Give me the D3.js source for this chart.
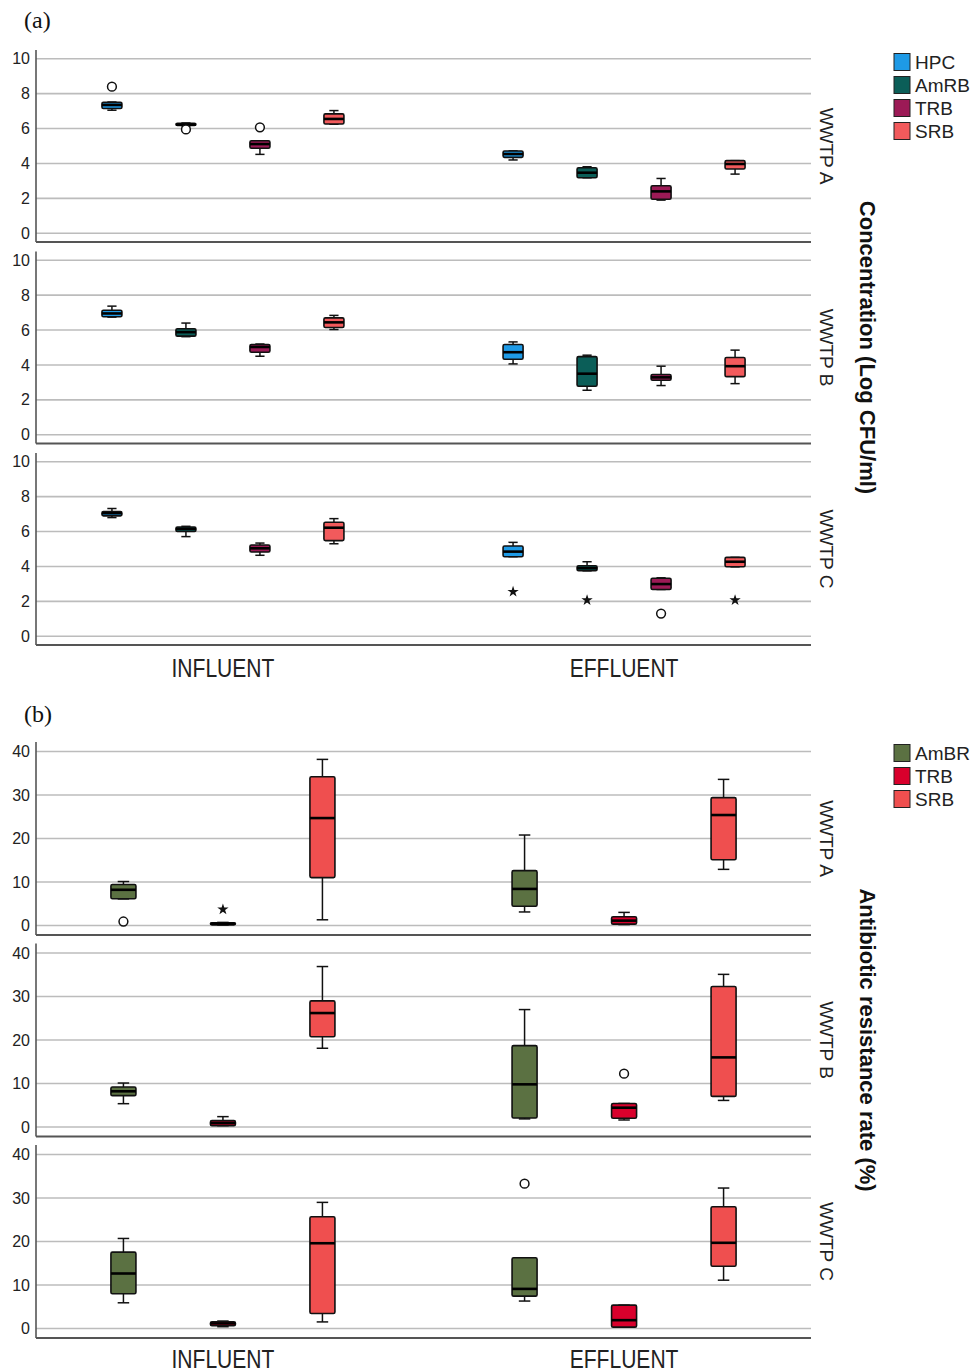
<!DOCTYPE html>
<html>
<head>
<meta charset="utf-8">
<script src="https://cdn.jsdelivr.net/npm/d3@7"></script>
<style>
  html, body { margin: 0; padding: 0; background: #fff; }
  svg { display: block; }
  text { font-family: "Liberation Sans", Arial, sans-serif; }
</style>
</head>
<body>
<script>
// ---------------- DATA ----------------
const groups = ["INFLUENT", "EFFLUENT"];
const plants = ["WWTP A", "WWTP B", "WWTP C"];

// Panel (a): concentration (Log CFU/ml)
const seriesA = ["HPC", "AmRB", "TRB", "SRB"];
const colorsA = ["#1e9ae6", "#0b5e58", "#9c1a56", "#f25a5c"];
const yTicksA = [0, 2, 4, 6, 8, 10];
// [group, series, min, q1, median, q3, max]
const concWWTPA = [
  ["INFLUENT", "HPC", 7.05, 7.15, 7.35, 7.5, 7.52],
  ["INFLUENT", "AmRB", 6.15, 6.18, 6.22, 6.3, 6.32],
  ["INFLUENT", "TRB", 4.52, 4.87, 5.11, 5.3, 5.3],
  ["INFLUENT", "SRB", 6.25, 6.26, 6.55, 6.84, 7.03],
  ["EFFLUENT", "HPC", 4.2, 4.35, 4.54, 4.71, 4.72],
  ["EFFLUENT", "AmRB", 3.18, 3.18, 3.47, 3.75, 3.81],
  ["EFFLUENT", "TRB", 1.9, 1.95, 2.4, 2.72, 3.14],
  ["EFFLUENT", "SRB", 3.39, 3.68, 3.97, 4.16, 4.16]
];
const concWWTPB = [
  ["INFLUENT", "HPC", 6.74, 6.76, 6.95, 7.13, 7.37],
  ["INFLUENT", "AmRB", 5.62, 5.65, 5.88, 6.07, 6.4],
  ["INFLUENT", "TRB", 4.5, 4.73, 5.03, 5.17, 5.2],
  ["INFLUENT", "SRB", 6.03, 6.15, 6.44, 6.7, 6.84],
  ["EFFLUENT", "HPC", 4.06, 4.33, 4.73, 5.17, 5.32],
  ["EFFLUENT", "AmRB", 2.55, 2.78, 3.5, 4.48, 4.56],
  ["EFFLUENT", "TRB", 2.82, 3.12, 3.29, 3.45, 3.93],
  ["EFFLUENT", "SRB", 2.93, 3.33, 3.93, 4.43, 4.85]
];
const concWWTPC = [
  ["INFLUENT", "HPC", 6.8, 6.9, 7.05, 7.14, 7.32],
  ["INFLUENT", "AmRB", 5.71, 6.0, 6.15, 6.26, 6.3],
  ["INFLUENT", "TRB", 4.64, 4.83, 5.04, 5.23, 5.34],
  ["INFLUENT", "SRB", 5.3, 5.48, 6.22, 6.53, 6.74],
  ["EFFLUENT", "HPC", 4.56, 4.56, 4.85, 5.17, 5.38],
  ["EFFLUENT", "AmRB", 3.75, 3.75, 3.9, 4.04, 4.27],
  ["EFFLUENT", "TRB", 2.68, 2.68, 2.99, 3.32, 3.35],
  ["EFFLUENT", "SRB", 3.98, 3.98, 4.27, 4.52, 4.52]
];
// [plant, group, series, value, marker]
const concOutliers = [
  ["WWTP A", "INFLUENT", "HPC", 8.4, "o"],
  ["WWTP A", "INFLUENT", "AmRB", 5.95, "o"],
  ["WWTP A", "INFLUENT", "TRB", 6.07, "o"],
  ["WWTP C", "EFFLUENT", "HPC", 2.55, "*"],
  ["WWTP C", "EFFLUENT", "AmRB", 2.07, "*"],
  ["WWTP C", "EFFLUENT", "TRB", 1.3, "o"],
  ["WWTP C", "EFFLUENT", "SRB", 2.07, "*"]
];

// Panel (b): antibiotic resistance rate (%)
const seriesB = ["AmBR", "TRB", "SRB"];
const colorsB = ["#5b7142", "#d9002c", "#ef4f4f"];
const yTicksB = [0, 10, 20, 30, 40];
const resWWTPA = [
  ["INFLUENT", "AmBR", 6.1, 6.13, 8.2, 9.43, 10.1],
  ["INFLUENT", "TRB", 0.1, 0.15, 0.4, 0.6, 0.7],
  ["INFLUENT", "SRB", 1.3, 11.0, 24.7, 34.2, 38.2],
  ["EFFLUENT", "AmBR", 3.1, 4.4, 8.4, 12.6, 20.8],
  ["EFFLUENT", "TRB", 0.2, 0.3, 1.1, 2.0, 3.0],
  ["EFFLUENT", "SRB", 12.9, 15.1, 25.4, 29.4, 33.6]
];
const resWWTPB = [
  ["INFLUENT", "AmBR", 5.35, 7.2, 8.2, 9.2, 10.1],
  ["INFLUENT", "TRB", 0.3, 0.3, 0.9, 1.45, 2.37],
  ["INFLUENT", "SRB", 18.1, 20.75, 26.2, 29.0, 36.9],
  ["EFFLUENT", "AmBR", 1.85, 2.07, 9.8, 18.7, 27.0],
  ["EFFLUENT", "TRB", 1.6, 2.0, 4.43, 5.4, 5.4],
  ["EFFLUENT", "SRB", 6.1, 7.03, 16.0, 32.3, 35.1]
];
const resWWTPC = [
  ["INFLUENT", "AmBR", 5.9, 7.98, 12.64, 17.55, 20.7],
  ["INFLUENT", "TRB", 0.4, 0.62, 1.15, 1.53, 1.7],
  ["INFLUENT", "SRB", 1.5, 3.45, 19.6, 25.7, 29.0],
  ["EFFLUENT", "AmBR", 6.3, 7.43, 9.1, 16.25, 16.25],
  ["EFFLUENT", "TRB", 0.3, 0.3, 1.9, 5.36, 5.36],
  ["EFFLUENT", "SRB", 11.1, 14.3, 19.7, 28.0, 32.3]
];
const resOutliers = [
  ["WWTP A", "INFLUENT", "AmBR", 0.9, "o"],
  ["WWTP A", "INFLUENT", "TRB", 3.7, "*"],
  ["WWTP B", "EFFLUENT", "TRB", 12.25, "o"],
  ["WWTP C", "EFFLUENT", "AmBR", 33.3, "o"]
];

// ---------------- DRAWING ----------------
const W = 979, H = 1372;
const svg = d3.select("body").append("svg").attr("width", W).attr("height", H);

const plotLeft = 36, plotRight = 811;
const xGroup = d3.scalePoint().domain(groups).range([plotLeft, plotRight]).padding(0.466);

function drawPanel(cfg) {
  const g = svg.append("g");
  const n = cfg.series.length;
  const p = 1 - cfg.boxW / cfg.step;
  const inner = d3.scaleBand().domain(cfg.series)
    .range([-cfg.step * n / 2, cfg.step * n / 2])
    .paddingInner(p).paddingOuter(p / 2);
  const color = d3.scaleOrdinal().domain(cfg.series).range(cfg.colors);
  const bw = inner.bandwidth();
  const cx = (grp, s) => xGroup(grp) + inner(s) + bw / 2;

  g.append("text").attr("x", 24).attr("y", cfg.labelY)
    .style("font-family", "'Liberation Serif', 'Times New Roman', serif")
    .style("font-size", "24px").attr("fill", "#111").text(cfg.label);

  plants.forEach((plant, k) => {
    const top = cfg.facetTops[k];
    const bottom = top + cfg.facetH;
    const y = d3.scaleLinear().domain(cfg.yDomain).range([bottom, top]);
    const fg = g.append("g");

    // gridlines
    fg.selectAll("line.grid").data(cfg.yTicks).join("line")
      .attr("x1", plotLeft).attr("x2", plotRight)
      .attr("y1", d => y(d)).attr("y2", d => y(d))
      .attr("stroke", "#bcbcbc").attr("stroke-width", 1.6);

    // y axis
    const ax = fg.append("g").attr("transform", `translate(${plotLeft},0)`)
      .call(d3.axisLeft(y).tickValues(cfg.yTicks).tickSize(0).tickPadding(6));
    ax.select(".domain").remove();
    ax.selectAll("text").style("font-size", "16px").attr("fill", "#222")
      .style("font-family", "'Liberation Sans', Arial, sans-serif");
    fg.append("line").attr("x1", plotLeft).attr("x2", plotLeft)
      .attr("y1", top).attr("y2", bottom).attr("stroke", "#555").attr("stroke-width", 1.6);
    fg.append("line").attr("x1", plotLeft).attr("x2", plotRight)
      .attr("y1", bottom).attr("y2", bottom).attr("stroke", "#555").attr("stroke-width", 2);

    // row label
    const my = (top + bottom) / 2;
    fg.append("text")
      .attr("transform", `translate(${cfg.rowLabelX},${my}) rotate(90)`)
      .attr("text-anchor", "middle").attr("dominant-baseline", "central")
      .style("font-size", "19px").attr("fill", "#222").text(plant);

    const rows = cfg.stats[k].map(r => ({
      group: r[0], s: r[1], min: r[2], q1: r[3], med: r[4], q3: r[5], max: r[6]
    }));
    const bx = fg.selectAll("g.box").data(rows).join("g");
    // whiskers
    bx.append("line")
      .attr("x1", d => cx(d.group, d.s)).attr("x2", d => cx(d.group, d.s))
      .attr("y1", d => y(d.max)).attr("y2", d => y(d.q3))
      .attr("stroke", "#111").attr("stroke-width", 1.5);
    bx.append("line")
      .attr("x1", d => cx(d.group, d.s)).attr("x2", d => cx(d.group, d.s))
      .attr("y1", d => y(d.q1)).attr("y2", d => y(d.min))
      .attr("stroke", "#111").attr("stroke-width", 1.5);
    ["max", "min"].forEach(key => {
      bx.append("line")
        .attr("x1", d => cx(d.group, d.s) - bw * 0.23).attr("x2", d => cx(d.group, d.s) + bw * 0.23)
        .attr("y1", d => y(d[key])).attr("y2", d => y(d[key]))
        .attr("stroke", "#111").attr("stroke-width", 1.5);
    });
    bx.append("rect")
      .attr("x", d => cx(d.group, d.s) - bw / 2).attr("width", bw)
      .attr("y", d => y(d.q3)).attr("height", d => Math.max(2, y(d.q1) - y(d.q3)))
      .attr("rx", 1.5)
      .attr("fill", d => color(d.s)).attr("stroke", "#111").attr("stroke-width", 1.6);
    bx.append("line")
      .attr("x1", d => cx(d.group, d.s) - bw / 2).attr("x2", d => cx(d.group, d.s) + bw / 2)
      .attr("y1", d => y(d.med)).attr("y2", d => y(d.med))
      .attr("stroke", "#000").attr("stroke-width", 2.6);

    // outliers
    const outs = cfg.outliers.filter(o => o[0] === plant)
      .map(o => ({ group: o[1], s: o[2], v: o[3], m: o[4] }));
    fg.selectAll("circle.out").data(outs.filter(o => o.m === "o")).join("circle")
      .attr("cx", d => cx(d.group, d.s)).attr("cy", d => y(d.v)).attr("r", 4.4)
      .attr("fill", "#fff").attr("stroke", "#111").attr("stroke-width", 1.5);
    fg.selectAll("path.star").data(outs.filter(o => o.m === "*")).join("path")
      .attr("transform", d => `translate(${cx(d.group, d.s)},${y(d.v)})`)
      .attr("d", d3.symbol(d3.symbolStar, 40))
      .attr("fill", "#111");
  });

  // x category labels
  groups.forEach(grp => {
    g.append("text")
      .attr("transform", `translate(${xGroup(grp)},${cfg.xLabelY}) scale(0.81,1)`)
      .attr("text-anchor", "middle")
      .style("font-size", "26px").attr("fill", "#222").text(grp);
  });

  // y title
  const last = cfg.facetTops[2] + cfg.facetH;
  const midY = (cfg.facetTops[0] + last) / 2;
  g.append("text")
    .attr("transform", `translate(${cfg.titleX},${midY}) rotate(90)`)
    .attr("text-anchor", "middle").attr("dominant-baseline", "central")
    .style("font-size", "22px").style("font-weight", "bold").attr("fill", "#111")
    .text(cfg.title);

  // legend
  const lg = g.append("g").attr("transform", `translate(894,${cfg.legendY})`);
  const li = lg.selectAll("g").data(cfg.series).join("g")
    .attr("transform", (d, i) => `translate(0,${i * 23})`);
  li.append("rect").attr("x", 0).attr("y", -8.5).attr("width", 16).attr("height", 17)
    .attr("fill", d => color(d)).attr("stroke", "#222").attr("stroke-width", 1);
  li.append("text").attr("x", 21).attr("y", 0).attr("dominant-baseline", "central")
    .style("font-size", "19px").attr("fill", "#222").text(d => d);
}

drawPanel({
  label: "(a)", labelY: 28,
  series: seriesA, colors: colorsA,
  facetTops: [50, 251.5, 453], facetH: 192, yDomain: [-0.5, 10.5], yTicks: yTicksA,
  stats: [concWWTPA, concWWTPB, concWWTPC], outliers: concOutliers,
  boxW: 20, step: 74,
  legendY: 62, title: "Concentration (Log CFU/ml)", titleX: 867, rowLabelX: 826,
  xLabelY: 677
});

drawPanel({
  label: "(b)", labelY: 722,
  series: seriesB, colors: colorsB,
  facetTops: [742, 943.5, 1145], facetH: 193, yDomain: [-2.2, 42.2], yTicks: yTicksB,
  stats: [resWWTPA, resWWTPB, resWWTPC], outliers: resOutliers,
  boxW: 25, step: 99.5,
  legendY: 753, title: "Antibiotic resistance rate (%)", titleX: 867, rowLabelX: 826,
  xLabelY: 1368
});
</script>
</body>
</html>
